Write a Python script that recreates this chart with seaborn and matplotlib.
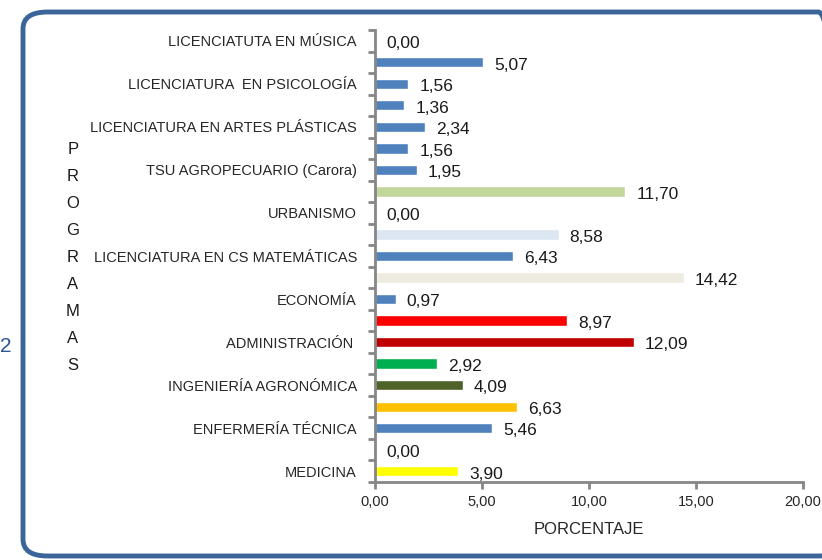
import numpy as np
import pandas as pd
import matplotlib
matplotlib.use("Agg")
import matplotlib.pyplot as plt
from matplotlib.patches import FancyBboxPatch
import seaborn as sns

# datos (de arriba hacia abajo)
programas = ["LICENCIATUTA EN MÚSICA", "", "LICENCIATURA  EN PSICOLOGÍA", "",
             "LICENCIATURA EN ARTES PLÁSTICAS", "", "TSU AGROPECUARIO (Carora)", "",
             "URBANISMO", "", "LICENCIATURA EN CS MATEMÁTICAS", "",
             "ECONOMÍA", "", "ADMINISTRACIÓN ", "",
             "INGENIERÍA AGRONÓMICA", "", "ENFERMERÍA TÉCNICA", "", "MEDICINA"]
porcentaje = [0.00, 5.07, 1.56, 1.36, 2.34, 1.56, 1.95, 11.70, 0.00, 8.58, 6.43,
              14.42, 0.97, 8.97, 12.09, 2.92, 4.09, 6.63, 5.46, 0.00, 3.90]
colores = ["#4F81BD", "#4F81BD", "#4F81BD", "#4F81BD", "#4F81BD", "#4F81BD", "#4F81BD",
           "#C3D69B", "#4F81BD", "#DCE6F2", "#4F81BD", "#EEECE1", "#4F81BD",
           "#FF0000", "#C00000", "#00B050", "#4F6228", "#FFC000", "#4F81BD",
           "#4F81BD", "#FFFF00"]
xticks = [0, 5, 10, 15, 20]

sns.set_style("white")
plt.rcParams['font.family'] = ['Liberation Sans Narrow', 'Liberation Sans', 'DejaVu Sans']

df = pd.DataFrame({"idx": range(len(porcentaje)), "pct": porcentaje})

fig = plt.figure(figsize=(8.22, 5.6), dpi=100)
ax = fig.add_axes([375/822, 1-482/560, 428/822, 452/560])

sns.barplot(data=df, x="pct", y="idx", hue="idx", palette=colores, orient="h",
            width=0.48, legend=False, ax=ax, saturation=1)

for i, v in enumerate(porcentaje):
    ax.annotate(f"{v:.2f}".replace(".", ","), (v, i), xytext=(8, -2),
                textcoords="offset points", va="center", ha="left",
                fontsize=12.5, color="#1a1a1a")

ax.set_xlim(0, 20)
ax.set_ylim(20.5, -0.5)
ax.set_xticks(xticks)
ax.set_xticklabels([f"{t:.2f}".replace(".", ",") for t in xticks], fontsize=10.5)
lab_pos = [i for i, p in enumerate(programas) if p]
ax.set_yticks(lab_pos)
ax.set_yticklabels([programas[i] for i in lab_pos], fontsize=10.5)
ax.tick_params(axis="y", which="major", left=False, length=0, pad=13)
ax.set_yticks(np.arange(-0.5, 21, 1), minor=True)
ax.tick_params(axis="y", which="minor", left=True, length=5, width=2,
               color="#868686", direction="out")
ax.tick_params(axis="x", bottom=True, length=5, width=2, color="#868686",
               direction="out", pad=4)
ax.set_ylabel("")
ax.set_xlabel("PORCENTAJE", fontsize=12, labelpad=10)

for s in ["top", "right"]:
    ax.spines[s].set_visible(False)
for s in ["left", "bottom"]:
    ax.spines[s].set_color("#868686")
    ax.spines[s].set_linewidth(2)

# titulo vertical del eje
fig.text(73/822, 1-258/560, "\n".join("PROGRAMAS"), ha="center", va="center",
         fontsize=12, linespacing=2.0, color="#1a1a1a")
fig.text(0/822, 1-346/560, "2", ha="left", va="center", fontsize=15, color="#2F5597")

# marco redondeado
marco = FancyBboxPatch((23/822, 1-556/560), 820/822, 544/560,
                       boxstyle="round,pad=0,rounding_size=0.03",
                       transform=fig.transFigure, fill=False,
                       edgecolor="#3A6598", linewidth=3.5, clip_on=False)
fig.patches.append(marco)

fig.savefig("out.png", dpi=100)
